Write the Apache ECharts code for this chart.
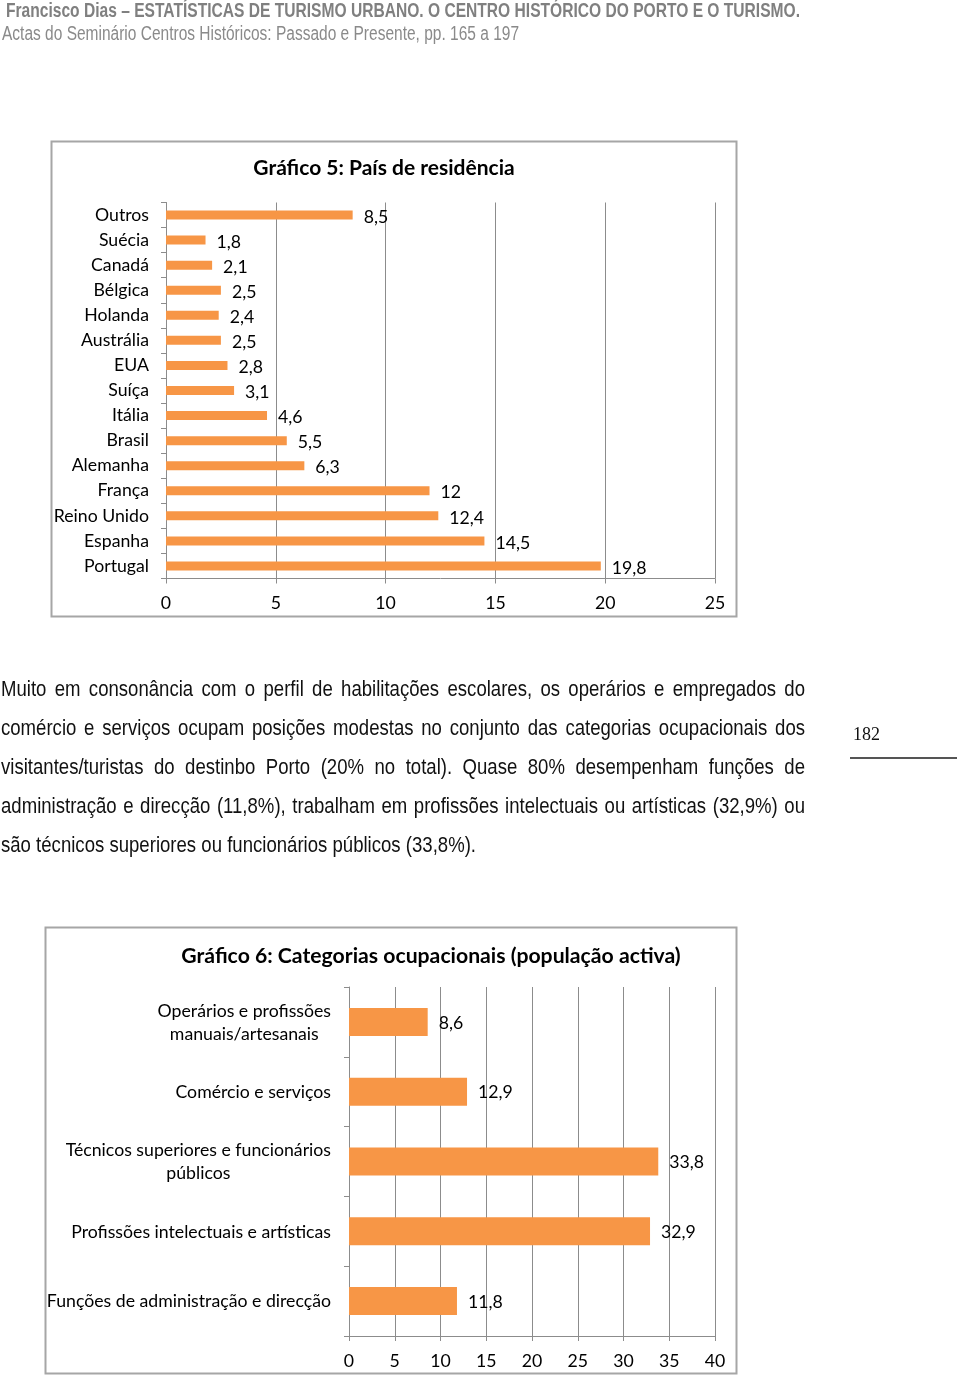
<!DOCTYPE html>
<html><head><meta charset="utf-8">
<script src="https://cdn.jsdelivr.net/npm/echarts@6/dist/echarts.min.js"></script>
<style>html,body{margin:0;padding:0;background:#fff}#c{width:960px;height:1375px}</style>
</head><body><div id="c"></div><script>
// ---- data ----
const countries = ['Outros','Suécia','Canadá','Bélgica','Holanda','Austrália','EUA','Suíça','Itália','Brasil','Alemanha','França','Reino Unido','Espanha','Portugal'];
const countryValues = [8.5,1.8,2.1,2.5,2.4,2.5,2.8,3.1,4.6,5.5,6.3,12,12.4,14.5,19.8];
const occupations = ['Operários e profissões\nmanuais/artesanais','Comércio e serviços','Técnicos superiores e funcionários\npúblicos','Profissões intelectuais e artísticas','Funções de administração e direcção'];
const occupationValues = [8.6,12.9,33.8,32.9,11.8];
const headerLine1 = 'Francisco Dias – ESTATÍSTICAS DE TURISMO URBANO. O CENTRO HISTÓRICO DO PORTO E O TURISMO.';
const headerLine2 = 'Actas do Seminário Centros Históricos: Passado e Presente, pp. 165 a 197';
const paragraphLines = [
  'Muito em consonância com o perfil de habilitações escolares, os operários e empregados do',
  'comércio e serviços ocupam posições modestas no conjunto das categorias ocupacionais dos',
  'visitantes/turistas do destinbo Porto (20% no total). Quase 80% desempenham funções de',
  'administração e direcção (11,8%), trabalham em profissões intelectuais ou artísticas (32,9%) ou',
  'são técnicos superiores ou funcionários públicos (33,8%).'
];
const title1 = 'Gráfico 5: País de residência';
const title2 = 'Gráfico 6: Categorias ocupacionais (população activa)';
const pageNumber = '182';

// ---- styles ----
const ORANGE = '#F79646';
const GRID = '#8c8c8c';
const CF = 'Lato, "Open Sans", sans-serif';
const NF = '"Liberation Sans Narrow", "Liberation Sans", Arial, sans-serif';
const FS = 17.7;
const fmt = v => String(v).replace('.', ',');

const cv = document.createElement('canvas').getContext('2d');
function measure(text, font) { cv.font = font; return cv.measureText(text).width; }

const graphics = [];
// chart boxes
graphics.push({type:'rect', shape:{x:51.5,y:141.5,width:685,height:475}, style:{fill:'none',stroke:'#a6a6a6',lineWidth:2}, z:-1});
graphics.push({type:'rect', shape:{x:45.5,y:927.5,width:691,height:446}, style:{fill:'none',stroke:'#a6a6a6',lineWidth:2}, z:-1});
// titles
graphics.push({type:'text', x:384, y:168, style:{text:title1, font:'bold 21px '+CF, fill:'#000', textAlign:'center', textVerticalAlign:'middle'}});
graphics.push({type:'text', x:431, y:956, style:{text:title2, font:'bold 21.2px '+CF, fill:'#000', textAlign:'center', textVerticalAlign:'middle'}});

// header lines (scaled to their widths)
function fitText(text, font, x, y, targetW, fill) {
  const w = measure(text, font);
  graphics.push({type:'text', x:x, y:y, scaleX: targetW / w, style:{text:text, font:font, fill:fill, textAlign:'left', textVerticalAlign:'middle'}});
}
fitText(headerLine1, 'bold 19.5px '+NF, 6, 12, 794, '#808080');
fitText(headerLine2, '19.5px '+NF, 2, 35, 517, '#8a8a8a');

// paragraph, justified
const pFont = '22.5px ' + NF;
const pScale = 475 / measure(paragraphLines[4], pFont);
const pLeft = 1, pRight = 805;
paragraphLines.forEach((line, i) => {
  const y = 689.5 + i * 39;
  const last = i === paragraphLines.length - 1;
  if (last) {
    graphics.push({type:'text', x:pLeft, y:y, scaleX:pScale, style:{text:line, font:pFont, fill:'#111', textVerticalAlign:'middle'}});
    return;
  }
  const words = line.split(' ');
  const widths = words.map(w => measure(w, pFont) * pScale);
  const total = widths.reduce((a, b) => a + b, 0);
  const gap = (pRight - pLeft - total) / (words.length - 1);
  let x = pLeft;
  words.forEach((w, j) => {
    graphics.push({type:'text', x:x, y:y, scaleX:pScale, style:{text:w, font:pFont, fill:'#111', textVerticalAlign:'middle'}});
    x += widths[j] + gap;
  });
});

// page number
graphics.push({type:'text', x:853, y:735, style:{text:pageNumber, font:'18px "Liberation Serif", "Times New Roman", serif', fill:'#111', textVerticalAlign:'middle'}});
graphics.push({type:'line', shape:{x1:850,y1:758,x2:957,y2:758}, style:{stroke:'#555',lineWidth:2}});

const labelStyle = {fontFamily: CF, fontSize: FS, color: '#000'};

const option = {
  animation: false,
  backgroundColor: '#fff',
  grid: [
    {left:166, top:202.5, width:549, height:376, containLabel:false},
    {left:349, top:987, width:366, height:349, containLabel:false}
  ],
  xAxis: [
    {gridIndex:0, type:'value', min:0, max:25, interval:5,
     axisLine:{show:true, lineStyle:{color:GRID}},
     axisTick:{show:true, length:5, lineStyle:{color:GRID}},
     splitLine:{show:true, lineStyle:{color:GRID, width:1}},
     axisLabel:Object.assign({margin:16}, labelStyle)},
    {gridIndex:1, type:'value', min:0, max:40, interval:5,
     axisLine:{show:true, lineStyle:{color:GRID}},
     axisTick:{show:true, length:5, lineStyle:{color:GRID}},
     splitLine:{show:true, lineStyle:{color:GRID, width:1}},
     axisLabel:Object.assign({margin:16}, labelStyle)}
  ],
  yAxis: [
    {gridIndex:0, type:'category', data:countries, inverse:true,
     axisLine:{show:true, lineStyle:{color:GRID}},
     axisTick:{show:true, length:5, lineStyle:{color:GRID}},
     splitLine:{show:false},
     axisLabel:Object.assign({margin:17, padding:[4,0,0,0]}, labelStyle)},
    {gridIndex:1, type:'category', data:occupations, inverse:true,
     axisLine:{show:true, lineStyle:{color:GRID}},
     axisTick:{show:true, length:5, lineStyle:{color:GRID}},
     splitLine:{show:false},
     axisLabel:{margin:18, align:'right', padding:[1,0,0,0],
       formatter: v => v.split('\n').map(l => '{c|' + l + '}').join('\n'),
       rich:{c:{align:'center', fontFamily:CF, fontSize:FS, color:'#000', lineHeight:23}}}}
  ],
  series: [
    {type:'bar', xAxisIndex:0, yAxisIndex:0, data:countryValues, barWidth:9,
     itemStyle:{color:ORANGE},
     label:{show:true, position:'right', distance:11, offset:[0,2], formatter:p => fmt(p.value), fontFamily:CF, fontSize:FS, color:'#000'}},
    {type:'bar', xAxisIndex:1, yAxisIndex:1, data:occupationValues, barWidth:28,
     itemStyle:{color:ORANGE},
     label:{show:true, position:'right', distance:11, offset:[0,1], formatter:p => fmt(p.value), fontFamily:CF, fontSize:FS, color:'#000'}}
  ],
  graphic: graphics
};
const chart = echarts.init(document.getElementById('c'), null, {renderer:'canvas'});
chart.setOption(option);
</script></body></html>
